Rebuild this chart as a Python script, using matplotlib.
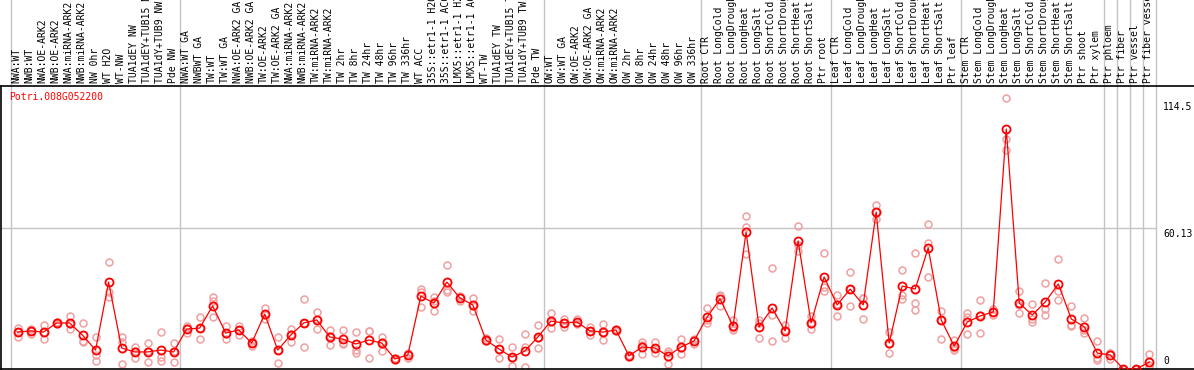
import numpy as np
import matplotlib
matplotlib.use('Agg')
import matplotlib.pyplot as plt

gene = "Potri.008G052200"

labels = [
    # NW
    "NWA:WT", "NWB:WT", "NWA:OE-ARK2", "NWB:OE-ARK2", "NWA:miRNA-ARK2", "NWB:miRNA-ARK2",
    "NW 0hr", "WT H2O", "WT-NW", "TUA1dEY NW", "TUA1dEY+TUB15 NW", "TUA1dY+TUB9 NW", "Pde NW",
    # TW
    "NWA:WT GA", "NWBWT GA", "TW:WT", "TW:WT GA", "NWA:OE-ARK2 GA", "NWB:OE-ARK2 GA",
    "TW:OE-ARK2", "TW:OE-ARK2 GA", "NWA:miRNA-ARK2", "NWB:miRNA-ARK2", "TW:miRNA-ARK2",
    "TW:miRNA-ARK2", "TW 2hr", "TW 8hr", "TW 24hr", "TW 48hr", "TW 96hr", "TW 336hr", "WT ACC",
    "35S::etr1-1 H2O", "35S::etr1-1 ACC", "LMX5::etr1-1 H2O", "LMX5::etr1-1 ACC", "WT-TW",
    "TUA1dEY TW", "TUA1dEY+TUB15 TW", "TUA1dY+TUB9 TW", "Pde TW",
    # OW
    "OW:WT", "OW:WT GA", "OW:OE-ARK2", "OW:OE-ARK2 GA", "OW:miRNA-ARK2", "OW:miRNA-ARK2",
    "OW 2hr", "OW 8hr", "OW 24hr", "OW 48hr", "OW 96hr", "OW 336hr",
    # root
    "Root CTR", "Root LongCold", "Root LongDrought", "Root LongHeat", "Root LongSalt",
    "Root ShortCold", "Root ShortDrought", "Root ShortHeat", "Root ShortSalt", "Ptr root",
    # leaf
    "Leaf CTR", "Leaf LongCold", "Leaf LongDrought", "Leaf LongHeat", "Leaf LongSalt",
    "Leaf ShortCold", "Leaf ShortDrought", "Leaf ShortHeat", "Leaf ShortSalt", "Ptr leaf",
    # stem
    "Stem CTR", "Stem LongCold", "Stem LongDrought", "Stem LongHeat", "Stem LongSalt",
    "Stem ShortCold", "Stem ShortDrought", "Stem ShortHeat", "Stem ShortSalt", "Ptr shoot",
    "Ptr xylem",
    # single tissues
    "Ptr phloem", "Ptr fiber", "Ptr vessel", "Ptr fiber vessel",
]

group_sizes = [13, 28, 12, 10, 10, 11, 1, 1, 1, 1]

mean = [15.8, 16.3, 15.8, 19.7, 19.7, 14.5, 8.1, 37.2, 9.0, 7.3, 7.3, 8.1, 7.3,
        17.1, 17.5, 27.0, 15.4, 16.7, 11.1, 23.5, 8.1, 14.5, 19.7, 21.0, 13.7, 12.8,
        10.7, 12.4, 11.1, 4.3, 6.0, 31.2, 28.2, 37.2, 30.4, 27.4, 12.4, 8.6, 5.1,
        7.7, 13.7,
        20.5, 19.7, 20.1, 16.3, 15.8, 16.7, 5.6, 9.4, 9.0, 5.6, 9.4, 12.0,
        22.2, 30.0, 18.4, 58.6, 18.0, 26.1, 16.3, 54.8, 19.7, 39.4,
        27.4, 34.2, 27.4, 67.2, 11.1, 35.5, 34.2, 51.8, 21.0, 9.8,
        20.1, 22.7, 24.4, 102.7, 28.2, 23.1, 28.7, 36.4, 21.4, 18.0, 6.8,
        6.0, 0.0, 0.0, 3.0]

rep1 = [17.5, 17.1, 18.8, 20.1, 22.7, 19.7, 13.7, 45.8, 13.7, 9.4, 11.1, 15.8, 11.1,
        18.4, 22.2, 30.8, 18.4, 18.4, 9.8, 26.1, 13.7, 17.1, 30.0, 24.4, 16.7, 16.7,
        15.8, 16.3, 13.7, 4.7, 6.8, 34.2, 30.8, 44.5, 29.1, 30.4, 13.3, 12.8, 9.4,
        15.0, 18.8,
        24.0, 21.4, 21.4, 18.0, 19.3, 17.1, 6.0, 11.6, 11.6, 7.7, 12.8, 12.8,
        26.1, 31.7, 21.0, 65.5, 21.0, 43.2, 18.8, 61.2, 22.7, 49.6,
        31.7, 41.5, 30.4, 70.2, 15.8, 42.4, 49.6, 62.0, 24.8, 12.4,
        24.0, 29.5, 25.7, 116.0, 33.4, 27.8, 36.8, 47.1, 27.0, 21.8, 12.0,
        6.8, 0.0, 0.0, 6.4]

rep2 = [13.9, 15.0, 12.8, 19.3, 17.1, 11.6, 6.0, 33.0, 11.6, 4.7, 3.0, 5.1, 3.0,
        15.4, 12.8, 29.1, 12.8, 14.5, 11.1, 21.4, 2.6, 11.6, 9.4, 17.1, 10.3, 10.7,
        8.1, 16.3, 7.7, 3.9, 4.7, 26.5, 24.8, 33.8, 31.2, 24.8, 12.0, 4.7, 1.3,
        9.4, 9.0,
        17.5, 18.0, 19.3, 14.5, 12.4, 16.3, 5.1, 6.4, 6.8, 2.1, 6.4, 10.7,
        19.7, 27.0, 16.7, 60.8, 13.3, 23.1, 13.3, 53.1, 17.1, 35.1,
        22.7, 27.0, 21.4, 64.2, 6.8, 31.7, 28.2, 53.9, 12.8, 8.1,
        22.2, 15.4, 23.1, 98.4, 24.0, 20.1, 25.7, 33.4, 18.4, 15.4, 3.9,
        4.3, 0.0, 0.0, 0.9]

rep3 = [15.8, 16.3, 15.8, 19.7, 19.3, 12.0, 3.4, 30.8, 2.1, 7.7, 7.7, 3.4, 7.7,
        17.5, 17.5, 22.2, 15.0, 16.7, 12.0, 23.1, 8.1, 15.0, 19.7, 21.4, 14.1, 11.1,
        6.8, 4.7, 11.6, 4.3, 6.4, 32.9, 29.0, 32.9, 30.8, 27.0, 12.0, 8.4, 4.7,
        0.9, 13.3,
        20.1, 19.7, 19.7, 16.3, 15.8, 16.7, 5.6, 10.3, 8.6, 6.8, 9.0, 12.4,
        21.0, 31.2, 17.5, 49.2, 19.7, 12.0, 16.7, 50.5, 19.3, 33.4,
        27.8, 34.2, 30.4, 67.2, 10.7, 30.0, 25.2, 39.4, 21.0, 9.0,
        15.0, 23.1, 24.4, 93.7, 27.3, 21.4, 23.1, 29.5, 18.8, 16.7, 4.7,
        6.8, 0.0, 0.0, 1.7]

yticks = [114.5, 60.13, 0]

W, H = 1194, 370
fig = plt.figure(figsize=(W / 100, H / 100), dpi=100)
fig.patch.set_facecolor('white')
# plot box: left 1px, bottom 1px, top at 86px from top
ax = fig.add_axes([1 / W, 1 / H, (W - 1) / W, 283 / H])

x = np.arange(len(labels))
grid_col = '#c4c4c4'
mono = 'DejaVu Sans Mono'

# group separators run up through the label strip
bounds = np.concatenate([[0], np.cumsum(group_sizes)]) - 0.5
for b in bounds:
    ax.axvline(b, ymin=0, ymax=1.31, color=grid_col, lw=1, clip_on=False, zorder=0)
ax.hlines(60.13, -1.3, bounds[-1], color=grid_col, lw=1, zorder=0)

for rep in (rep1, rep2, rep3):
    ax.plot(x, rep, linestyle='none', marker='o', ms=5, mfc='none',
            mec='#f0a0a0', mew=1.1, zorder=2)
ax.plot(x, mean, color='red', lw=0.9, marker='o', ms=5.8, mfc='none',
        mec='red', mew=1.3, zorder=3)

ax.set_xlim(-1.27, 90.43)
ax.set_ylim(0, 121.1)
ax.set_xticks([])
ax.set_yticks([])
for side in ('left', 'bottom', 'top'):
    ax.spines[side].set_color('black')
    ax.spines[side].set_linewidth(1.2)
ax.spines['right'].set_visible(False)

for xi, lab in zip(x, labels):
    ax.annotate(lab, xy=(xi, 1), xycoords=('data', 'axes fraction'),
                xytext=(-1, 3), textcoords='offset pixels', rotation=90,
                ha='center', va='bottom', fontsize=7, family=mono,
                annotation_clip=False)

ax.text(0.0067, 0.961, gene, transform=ax.transAxes, color='red',
        fontsize=7, family=mono, ha='left', va='center')

for yt in yticks:
    txt = f"{yt:g}"
    if yt == 0:
        ax.annotate(txt, xy=(0.974, yt), xycoords=('axes fraction', 'data'),
                    xytext=(0, 3), textcoords='offset pixels',
                    ha='left', va='bottom', fontsize=7, family=mono)
    else:
        ax.annotate(txt, xy=(0.974, yt), xycoords=('axes fraction', 'data'),
                    xytext=(0, -1), textcoords='offset pixels',
                    ha='left', va='top', fontsize=7, family=mono)

fig.savefig('out.png', dpi=100, facecolor='white')
